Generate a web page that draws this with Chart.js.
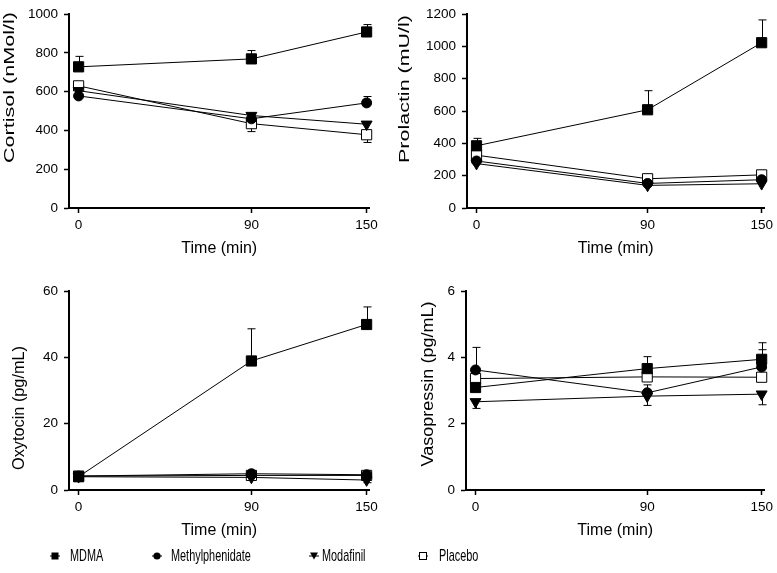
<!DOCTYPE html>
<html>
<head>
<meta charset="utf-8">
<script src="https://cdn.jsdelivr.net/npm/chart.js@4.4.1/dist/chart.umd.min.js"></script>
<style>
  html, body { margin: 0; padding: 0; background: #fff; }
  #page { position: relative; width: 777px; height: 573px; overflow: hidden; font-family: 'Liberation Sans', Arial, sans-serif; }
  .panel { position: absolute; }
  .mark { position: absolute; top: 550px; }
  .label { position: absolute; top: 546px; font-size: 17px; line-height: 20px; color: #000;
           transform: scaleX(0.64); transform-origin: left center; white-space: nowrap; }
</style>
</head>
<body>
<div id="page">
  <canvas id="cortisol" class="panel" width="388" height="268" style="left:0;top:0"></canvas>
  <canvas id="prolactin" class="panel" width="387" height="268" style="left:390px;top:0"></canvas>
  <canvas id="oxytocin" class="panel" width="388" height="280" style="left:0;top:270px"></canvas>
  <canvas id="vasopressin" class="panel" width="387" height="280" style="left:390px;top:270px"></canvas>
  <div id="legend"></div>
</div>
<script>
// time points (min)
const times = [0, 90, 150];
const groups = ['MDMA', 'Methylphenidate', 'Modafinil', 'Placebo'];

// rows: MDMA, Methylphenidate, Modafinil, Placebo
const cortisol = [[728, 769, 908], [578, 460, 542], [605, 477, 432], [630, 435, 378]];
const cortisolErr = [[54, 43, 38], [0, 0, 33], [0, 0, 0], [0, -41, -40]];

const prolactin = [[385, 608, 1023], [291, 152, 175], [275, 140, 150], [327, 181, 205]];
const prolactinErr = [[46, 118, 141], [0, 0, 0], [0, 0, 0], [0, 0, 0]];

const oxytocin = [[4.0, 38.9, 49.9], [4.2, 4.9, 4.6], [4.0, 3.8, 3.0], [4.2, 4.4, 4.4]];
const oxytocinErr = [[0, 9.7, 5.3], [0, 0, 0], [0, -0.6, -0.8], [0, 0.6, 0]];

const vasopressin = [[3.09, 3.66, 3.94], [3.62, 2.93, 3.71], [2.66, 2.83, 2.89], [3.36, 3.41, 3.40]];
const vasopressinErr = [[0, 0.36, 0.5], [0.68, 0.24, 0.52], [-0.2, -0.28, -0.32], [0, 0, 0]];

const FONT = '"Liberation Sans", Arial, sans-serif';

const errorBars = {
  id: 'errorBars',
  beforeDatasetsDraw(chart) {
    const ctx = chart.ctx;
    const yScale = chart.scales.y;
    ctx.save();
    ctx.strokeStyle = '#000';
    ctx.lineWidth = 1;
    chart.data.datasets.forEach((ds, i) => {
      const meta = chart.getDatasetMeta(i);
      meta.data.forEach((pt, j) => {
        const e = ds.errors[j];
        if (!e) return;
        const yEnd = yScale.getPixelForValue(ds.data[j].y + e);
        const x = Math.round(pt.x) + 0.5;
        ctx.beginPath();
        ctx.moveTo(x, pt.y);
        ctx.lineTo(x, yEnd);
        ctx.moveTo(x - 4, yEnd);
        ctx.lineTo(x + 4, yEnd);
        ctx.stroke();
      });
    });
    ctx.restore();
  }
};

// rotated y title, stretched to the length seen in the figure
const yTitle = {
  id: 'yTitle',
  afterDraw(chart, args, opts) {
    const ctx = chart.ctx;
    ctx.save();
    ctx.font = opts.size + 'px ' + FONT;
    ctx.fillStyle = '#000';
    ctx.textAlign = 'center';
    ctx.textBaseline = 'middle';
    const w = ctx.measureText(opts.text).width;
    ctx.translate(opts.cx, opts.cy);
    ctx.rotate(-Math.PI / 2);
    ctx.scale(opts.len / w, 1);
    ctx.fillText(opts.text, 0, 0);
    ctx.restore();
  }
};

const styles = ['rect', 'circle', 'triangle', 'rect'];
const radii = [7.2, 5, 6.3, 7.2];
const rotations = [0, 0, 180, 0];
const fills = ['#000', '#000', '#000', '#fff'];

function makeChart(id, values, errs, yMax, yStep, lay) {
  const datasets = groups.map((g, i) => ({
    label: g,
    data: times.map((t, j) => ({ x: t, y: values[i][j] })),
    errors: errs[i],
    borderColor: '#000',
    borderWidth: 1,
    pointStyle: styles[i],
    pointRadius: radii[i],
    pointRotation: rotations[i],
    pointBackgroundColor: fills[i],
    pointBorderColor: '#000',
    pointBorderWidth: 1,
    tension: 0,
    clip: false
  }));
  const axisGrid = { drawOnChartArea: false, drawTicks: true, tickLength: 5, tickColor: '#000', tickWidth: 1.5 };
  const axisBorder = { display: true, color: '#000', width: 2 };
  const tickFont = { size: 13.5, family: FONT };
  return new Chart(document.getElementById(id), {
    type: 'line',
    data: { datasets },
    options: {
      responsive: false,
      animation: false,
      layout: { padding: { top: lay.top, right: lay.right, left: 0, bottom: 0 } },
      plugins: {
        legend: { display: false },
        tooltip: { enabled: false },
        yTitle: { text: lay.title, cx: lay.cx, cy: lay.cy, len: lay.len, size: lay.size }
      },
      scales: {
        x: {
          type: 'linear',
          min: -5,
          max: 151.5,
          afterBuildTicks: s => { s.ticks = times.map(v => ({ value: v })); },
          afterFit: s => { s.height = lay.xh; },
          grid: axisGrid,
          border: axisBorder,
          ticks: { color: '#000', font: tickFont, padding: 4, autoSkip: false, maxRotation: 0, callback: v => String(v) },
          title: { display: true, text: 'Time (min)', color: '#000', font: { size: 16, family: FONT }, padding: { top: 0, bottom: 10 } }
        },
        y: {
          min: 0,
          max: yMax,
          afterFit: s => { s.width = lay.yw; },
          grid: axisGrid,
          border: axisBorder,
          ticks: { stepSize: yStep, color: '#000', font: tickFont, padding: 6, callback: v => String(v) }
        }
      }
    },
    plugins: [errorBars, yTitle]
  });
}

makeChart('cortisol', cortisol, cortisolErr, 1000, 200,
  { top: 9, right: 18.5, yw: 69, xh: 60, title: 'Cortisol (nMol/l)', cx: 10, cy: 87.5, len: 151, size: 14.5 });
makeChart('prolactin', prolactin, prolactinErr, 1200, 200,
  { top: 9, right: 9.5, yw: 77, xh: 60, title: 'Prolactin (mU/l)', cx: 15, cy: 89, len: 148, size: 14.5 });
makeChart('oxytocin', oxytocin, oxytocinErr, 60, 20,
  { top: 21, right: 18.5, yw: 69, xh: 60, title: 'Oxytocin (pg/mL)', cx: 20, cy: 138, len: 124, size: 16 });
makeChart('vasopressin', vasopressin, vasopressinErr, 6, 2,
  { top: 21, right: 9.5, yw: 76, xh: 60, title: 'Vasopressin (pg/mL)', cx: 39, cy: 114, len: 165, size: 16 });

// legend below the panels
const legendMarks = [
  '<rect x="1.5" y="2.5" width="7" height="7" fill="#000"/>',
  '<circle cx="5" cy="6" r="3.6" fill="#000"/>',
  '<polygon points="1,2.5 9,2.5 5,9.5" fill="#000"/>',
  '<rect x="1.5" y="2.5" width="7" height="7" fill="#fff" stroke="#000" stroke-width="1"/>'
];
const legendMarkX = [55, 157, 314, 423];
const legendTextX = [70, 171, 322, 439];
const legend = document.getElementById('legend');
groups.forEach((g, i) => {
  legend.insertAdjacentHTML('beforeend',
    '<svg class="mark" width="10" height="12" style="left:' + (legendMarkX[i] - 5) + 'px">' +
    '<line x1="0" y1="6" x2="10" y2="6" stroke="#000" stroke-width="1"/>' + legendMarks[i] + '</svg>' +
    '<span class="label" style="left:' + legendTextX[i] + 'px">' + g + '</span>');
});
</script>
</body>
</html>
